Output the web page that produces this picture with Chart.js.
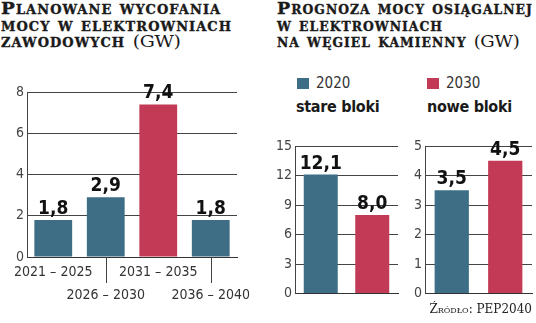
<!DOCTYPE html>
<html lang="pl">
<head>
<meta charset="utf-8">
<script src="https://cdn.jsdelivr.net/npm/chart.js@4.4.1/dist/chart.umd.min.js"></script>
<style>
  html, body { margin: 0; padding: 0; background: #fff; }
  body { position: relative; width: 536px; height: 323px; overflow: hidden; }
  .box { position: absolute; }
  .title {
    position: absolute; top: 0;
    font-family: "DejaVu Serif", serif; font-weight: bold;
    font-variant: small-caps; font-size: 17px; line-height: 16.5px; letter-spacing: 1px;
    -webkit-text-stroke: 0.35px #1a1a1a;
    color: #1a1a1a; white-space: nowrap; transform-origin: 0 0;
  }
  .title .unit { font-weight: normal; font-variant: normal; font-size: 17.5px; letter-spacing: -0.3px; -webkit-text-stroke: 0; }
  .legend { position: absolute; top: 74px; font-family: "DejaVu Sans Condensed", "DejaVu Sans", sans-serif; font-size: 15px; color: #333; }
  .legend i { display: inline-block; width: 12px; height: 11px; margin-right: 7px; vertical-align: -1px; }
  .sub { position: absolute; top: 97px; font-family: "DejaVu Sans Condensed", "DejaVu Sans", sans-serif; font-weight: bold; font-size: 16px; letter-spacing: -0.3px; color: #1a1a1a; }
  .source { position: absolute; right: 4px; top: 302px; font-family: "DejaVu Serif", serif; font-variant: small-caps; font-size: 12px; color: #222; }
</style>
</head>
<body>
<div class="title" style="left:1px;transform:scaleX(1.08)">Planowane wycofania<br>mocy w elektrowniach<br>zawodowych <span class="unit">(GW)</span></div>
<div class="title" style="left:277px;transform:scaleX(1.03)">Prognoza mocy osiągalnej<br>w elektrowniach<br>na węgiel kamienny <span class="unit">(GW)</span></div>

<div class="legend" style="left:297px"><i style="background:#3d6e86"></i>2020</div>
<div class="legend" style="left:427px"><i style="background:#c23a55"></i>2030</div>
<div class="sub" style="left:296px">stare bloki</div>
<div class="sub" style="left:427px">nowe bloki</div>

<div class="box" style="left:0;top:70px;width:262px;height:253px"><canvas id="c1"></canvas></div>
<div class="box" style="left:265px;top:130px;width:140px;height:175px"><canvas id="c2"></canvas></div>
<div class="box" style="left:400px;top:130px;width:136px;height:175px"><canvas id="c3"></canvas></div>

<div class="source">Źródło: PEP2040</div>

<script>
const BLUE = '#3d6e86';
const RED = '#c23a55';

// planowane wycofania
const periods = ['2021 – 2025', '2026 – 2030', '2031 – 2035', '2036 – 2040'];
const retired = [1.8, 2.9, 7.4, 1.8];
const retiredColors = [BLUE, BLUE, RED, BLUE];
const retiredTicks = [0, 2, 4, 6, 8];

// prognoza mocy osiągalnej
const years = ['2020', '2030'];
const yearColors = [BLUE, RED];
const oldUnits = [12.1, 8.0];
const oldTicks = [0, 3, 6, 9, 12, 15];
const newUnits = [3.5, 4.5];
const newTicks = [0, 1, 2, 3, 4, 5];

const condensed = '"DejaVu Sans Condensed", "DejaVu Sans", sans-serif';
Chart.defaults.font.family = condensed;
Chart.defaults.color = '#333';

const valueLabels = {
  id: 'valueLabels',
  afterDatasetsDraw(chart) {
    const ctx = chart.ctx;
    const meta = chart.getDatasetMeta(0);
    const data = chart.data.datasets[0].data;
    ctx.save();
    ctx.font = 'bold 19px ' + condensed;
    ctx.fillStyle = '#111';
    ctx.textAlign = 'center';
    ctx.textBaseline = 'alphabetic';
    meta.data.forEach((bar, i) => {
      ctx.fillText(data[i].toFixed(1).replace('.', ','), bar.x, bar.y - 6);
    });
    ctx.restore();
  }
};

// kreski prowadzące do etykiet w drugim rzędzie
const tickLeaders = {
  id: 'tickLeaders',
  afterDraw(chart) {
    const x = chart.scales.x;
    const ctx = chart.ctx;
    ctx.save();
    ctx.strokeStyle = '#444';
    ctx.lineWidth = 1;
    x.ticks.forEach((t, i) => {
      if (i % 2 === 0) return;
      const px = Math.round(x.getPixelForTick(i)) + 0.5;
      ctx.beginPath();
      ctx.moveTo(px, x.top);
      ctx.lineTo(px, x.top + 26);
      ctx.stroke();
    });
    ctx.restore();
  }
};

function makeChart(id, labels, values, colors, ticks, opts) {
  return new Chart(document.getElementById(id), {
    type: 'bar',
    data: {
      labels: labels,
      datasets: [{ data: values, backgroundColor: colors, barPercentage: opts.barPct, categoryPercentage: 1 }]
    },
    options: {
      responsive: true,
      maintainAspectRatio: false,
      animation: false,
      layout: { padding: opts.padding },
      plugins: { legend: { display: false }, tooltip: { enabled: false } },
      scales: {
        x: {
          grid: { display: false },
          border: { color: '#333', width: 1 },
          ticks: opts.xTicks || { display: false },
          afterFit: s => { s.height = opts.xHeight; }
        },
        y: {
          min: ticks[0],
          max: ticks[ticks.length - 1],
          afterBuildTicks: s => { s.ticks = ticks.map(v => ({ value: v })); },
          grid: { color: '#444', lineWidth: 1, drawTicks: false },
          border: { color: '#444', width: 1 },
          ticks: { padding: 3, font: { size: 14 }, color: '#444' },
          afterFit: s => { s.width = opts.yWidth; }
        }
      }
    },
    plugins: opts.plugins || [valueLabels]
  });
}

makeChart('c1', periods.map((p, i) => i % 2 ? ['', p] : [p, '']), retired, retiredColors, retiredTicks, {
  barPct: 0.72,
  padding: { top: 22, left: 0, right: 25, bottom: 0 },
  yWidth: 27,
  xHeight: 66,
  xTicks: { padding: -4, font: { size: 14, lineHeight: 1.65 }, color: '#333', maxRotation: 0, autoSkip: false },
  plugins: [valueLabels, tickLeaders]
});

makeChart('c2', years, oldUnits, yearColors, oldTicks, {
  barPct: 0.66,
  padding: { top: 16, left: 0, right: 7, bottom: 9 },
  yWidth: 30,
  xHeight: 0
});

makeChart('c3', years, newUnits, yearColors, newTicks, {
  barPct: 0.64,
  padding: { top: 16, left: 0, right: 4, bottom: 9 },
  yWidth: 25,
  xHeight: 0
});
</script>
</body>
</html>
